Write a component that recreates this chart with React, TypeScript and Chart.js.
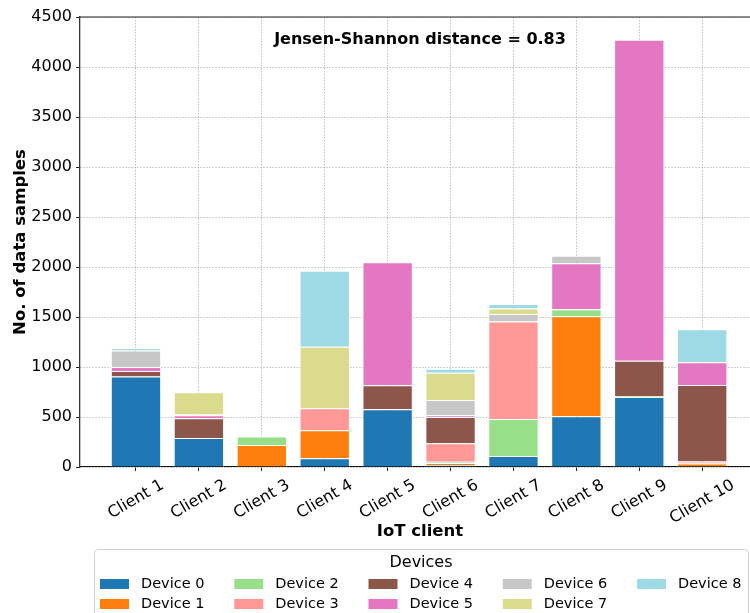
import React, { useEffect, useRef } from "react";
import { Chart, registerables } from "chart.js";

Chart.register(...registerables);

const clients = ["Client 1", "Client 2", "Client 3", "Client 4", "Client 5", "Client 6", "Client 7", "Client 8", "Client 9", "Client 10"];
const devices = ["Device 0", "Device 1", "Device 2", "Device 3", "Device 4", "Device 5", "Device 6", "Device 7", "Device 8"];
const deviceColors = ["#1f77b4", "#ff7f0e", "#98df8a", "#ff9896", "#8c564b", "#e377c2", "#c7c7c7", "#dbdb8d", "#9edae5"];

const device0 = [905, 290, 0, 88, 577, 20, 110, 507, 700, 0];
const device1 = [0, 0, 220, 280, 0, 20, 0, 1000, 0, 35];
const device2 = [0, 0, 85, 0, 0, 12, 370, 70, 10, 0];
const device3 = [0, 0, 0, 220, 0, 185, 975, 0, 0, 20];
const device4 = [55, 197, 0, 0, 240, 263, 0, 0, 353, 765];
const device5 = [40, 30, 0, 0, 1230, 17, 0, 460, 3210, 227];
const device6 = [165, 10, 0, 0, 0, 153, 75, 75, 0, 0];
const device7 = [0, 220, 0, 615, 0, 273, 55, 0, 0, 0];
const device8 = [25, 0, 0, 760, 0, 40, 45, 0, 0, 330];
const deviceSeries = [device0, device1, device2, device3, device4, device5, device6, device7, device8];

const yMin = 0;
const yMax = 4500;
const yStep = 500;

const annotationText = "Jensen-Shannon distance = 0.83";
const xTitle = "IoT client";
const yTitle = "No. of data samples";
const legendTitle = "Devices";

const FONT = "'DejaVu Sans', sans-serif";

const customDraw = {
  id: "customDraw",
  afterDraw(chart: any) {
    const ctx = chart.ctx as CanvasRenderingContext2D;
    const area = chart.chartArea;
    const xs = chart.scales.x;
    ctx.save();
    // top spine
    ctx.strokeStyle = "#222";
    ctx.lineWidth = 1.1;
    ctx.beginPath();
    ctx.moveTo(area.left, area.top);
    ctx.lineTo(area.right, area.top);
    ctx.stroke();

    // x tick labels, rotated 30deg, centered on tick
    ctx.fillStyle = "#000";
    ctx.font = `16px ${FONT}`;
    const ang = (30 * Math.PI) / 180;
    clients.forEach((label, i) => {
      const px = xs.getPixelForValue(i);
      const w = ctx.measureText(label).width;
      const h = 18.5;
      const H = w * Math.sin(ang) + h * Math.cos(ang);
      const cy = area.bottom + 9 + H / 2;
      ctx.save();
      ctx.translate(px, cy);
      ctx.rotate(-ang);
      ctx.textAlign = "center";
      ctx.textBaseline = "middle";
      ctx.fillText(label, 0, 0);
      ctx.restore();
    });

    // x title
    ctx.font = `bold 16.5px ${FONT}`;
    ctx.textAlign = "center";
    ctx.textBaseline = "middle";
    ctx.fillText(xTitle, 420, 532);

    // y title
    ctx.save();
    ctx.translate(21, (area.top + area.bottom) / 2);
    ctx.rotate(-Math.PI / 2);
    ctx.fillText(yTitle, 0, 0);
    ctx.restore();

    // annotation
    ctx.font = `bold 16px ${FONT}`;
    ctx.fillText(annotationText, 420, 40);

    // legend
    const bx = 94.5, by = 549.5, bw = 654, bh = 90;
    ctx.beginPath();
    if ((ctx as any).roundRect) (ctx as any).roundRect(bx, by, bw, bh, 4);
    else ctx.rect(bx, by, bw, bh);
    ctx.fillStyle = "rgba(255,255,255,0.9)";
    ctx.fill();
    ctx.strokeStyle = "#d0d0d0";
    ctx.lineWidth = 1;
    ctx.stroke();

    ctx.fillStyle = "#000";
    ctx.font = `16px ${FONT}`;
    ctx.textAlign = "center";
    ctx.fillText(legendTitle, 421, 563);

    ctx.font = `14.5px ${FONT}`;
    ctx.textAlign = "left";
    devices.forEach((d, i) => {
      const col = Math.floor(i / 2);
      const row = i % 2;
      const x0 = 100 + col * 134.25;
      const yc = 584 + row * 20;
      ctx.fillStyle = deviceColors[i];
      ctx.fillRect(x0, yc - 5, 29, 10);
      ctx.fillStyle = "#000";
      ctx.fillText(d, x0 + 41, yc + 0.5);
    });
    ctx.restore();
  },
};

export default function App() {
  const ref = useRef<HTMLCanvasElement | null>(null);

  useEffect(() => {
    if (!ref.current) return;
    const datasets = devices.map((name, di) => ({
      label: name,
      data: clients.map((_, ci) => ({ x: ci, y: deviceSeries[di][ci] })),
      backgroundColor: deviceColors[di],
      borderColor: "#ffffff",
      borderWidth: 1,
      categoryPercentage: 0.8,
      barPercentage: 1.0,
    }));
    const chart = new Chart(ref.current, {
      type: "bar",
      data: { datasets },
      plugins: [customDraw],
      options: {
        animation: false,
        responsive: false,
        devicePixelRatio: 1,
        layout: { padding: { top: 17, right: 0, bottom: 0, left: 0 } },
        plugins: { legend: { display: false }, tooltip: { enabled: false } },
        scales: {
          x: {
            type: "linear",
            stacked: true,
            offset: false,
            min: -0.89,
            max: 9.76,
            afterBuildTicks: (axis: any) => {
              axis.ticks = clients.map((_, i) => ({ value: i }));
            },
            afterFit: (axis: any) => {
              axis.height = 146;
            },
            ticks: { display: false },
            grid: {
              offset: false,
              color: "#b0b0b0",
              lineWidth: 0.8,
              drawTicks: true,
              tickLength: 4,
              tickColor: "#222",
              tickWidth: 1,
            },
            border: { display: true, color: "#111", width: 1.1, dash: [1.5, 1.5] },
          },
          y: {
            stacked: true,
            min: yMin,
            max: yMax,
            afterFit: (axis: any) => {
              axis.width = 80;
            },
            ticks: {
              stepSize: yStep,
              color: "#000",
              padding: 4,
              font: { family: "DejaVu Sans", size: 16 },
              callback: (v: any) => String(v),
            },
            grid: {
              color: "#b0b0b0",
              lineWidth: 0.8,
              drawTicks: true,
              tickLength: 4,
              tickColor: "#222",
              tickWidth: 1,
            },
            border: { display: true, color: "#333", width: 1.3, dash: [1.5, 1.5] },
          },
        },
      } as any,
    });
    return () => chart.destroy();
  }, []);

  return (
    <div style={{ position: "fixed", left: 0, top: 0, width: 750, height: 613, overflow: "hidden", background: "#fff" }}>
      <canvas ref={ref} width={750} height={613} style={{ width: 750, height: 613, display: "block" }} />
    </div>
  );
}
